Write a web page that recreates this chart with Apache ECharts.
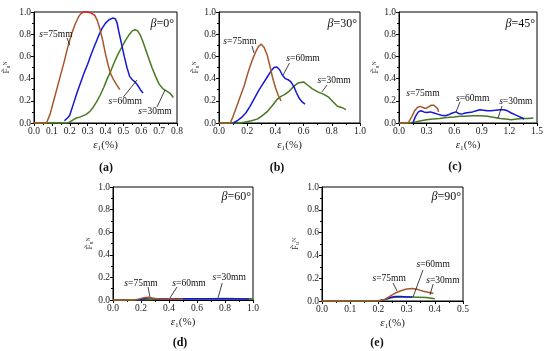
<!DOCTYPE html>
<html><head><meta charset="utf-8">
<script src="https://cdn.jsdelivr.net/npm/echarts@6/dist/echarts.min.js"></script>
<style>html,body{margin:0;padding:0;background:#fff}#c{width:550px;height:351px}</style>
</head><body><div id="c"></div><script>
// ---- data (x = strain ε1 in %, y = normalized force) ----
const a75 = [[0,0],[0.07,0],[0.09,0.08],[0.11,0.2],[0.13,0.32],[0.15,0.44],[0.17,0.56],[0.19,0.69],[0.21,0.80],[0.23,0.89],[0.25,0.96],[0.265,0.99],[0.28,1.0],[0.30,1.0],[0.32,0.99],[0.34,0.97],[0.355,0.92],[0.37,0.84],[0.385,0.74],[0.40,0.62],[0.415,0.52],[0.43,0.44],[0.445,0.39],[0.46,0.35],[0.48,0.30]];
const a60 = [[0.17,0.02],[0.18,0.03],[0.19,0.05],[0.2,0.07],[0.22,0.17],[0.24,0.27],[0.26,0.36],[0.28,0.45],[0.30,0.53],[0.32,0.62],[0.34,0.70],[0.36,0.78],[0.38,0.85],[0.40,0.90],[0.42,0.93],[0.44,0.945],[0.455,0.94],[0.465,0.90],[0.475,0.82],[0.49,0.71],[0.505,0.60],[0.52,0.50],[0.535,0.42],[0.55,0.39],[0.565,0.37],[0.58,0.34],[0.595,0.30],[0.61,0.27]];
const a30 = [[0,0],[0.19,0],[0.21,0.02],[0.23,0.04],[0.26,0.055],[0.29,0.075],[0.31,0.10],[0.33,0.14],[0.35,0.19],[0.37,0.25],[0.39,0.32],[0.41,0.40],[0.43,0.47],[0.45,0.55],[0.47,0.62],[0.49,0.68],[0.51,0.74],[0.53,0.79],[0.55,0.83],[0.565,0.84],[0.58,0.83],[0.595,0.79],[0.61,0.73],[0.625,0.66],[0.64,0.59],[0.66,0.50],[0.68,0.42],[0.70,0.35],[0.72,0.31],[0.74,0.29],[0.76,0.27],[0.78,0.23]];

const b75 = [[0,0],[0.08,0],[0.10,0.06],[0.12,0.13],[0.14,0.20],[0.16,0.27],[0.18,0.34],[0.20,0.43],[0.22,0.51],[0.24,0.58],[0.26,0.64],[0.28,0.69],[0.30,0.71],[0.32,0.68],[0.34,0.62],[0.36,0.52],[0.38,0.41],[0.40,0.32],[0.42,0.25],[0.44,0.20]];
const b60 = [[0.10,0],[0.13,0.02],[0.16,0.05],[0.19,0.09],[0.22,0.15],[0.25,0.22],[0.28,0.29],[0.31,0.35],[0.34,0.41],[0.37,0.47],[0.39,0.50],[0.41,0.505],[0.43,0.48],[0.45,0.43],[0.47,0.40],[0.49,0.39],[0.51,0.37],[0.53,0.33],[0.55,0.27],[0.57,0.22],[0.59,0.19],[0.61,0.17]];
const b30 = [[0,0],[0.15,0],[0.19,0.01],[0.23,0.02],[0.27,0.035],[0.30,0.06],[0.34,0.10],[0.38,0.16],[0.41,0.21],[0.44,0.24],[0.47,0.26],[0.50,0.29],[0.53,0.33],[0.56,0.36],[0.60,0.37],[0.63,0.34],[0.66,0.31],[0.70,0.28],[0.74,0.26],[0.78,0.23],[0.81,0.19],[0.84,0.15],[0.87,0.14],[0.90,0.12]];

const c75 = [[0,0],[0.10,0],[0.14,0.06],[0.17,0.11],[0.20,0.14],[0.23,0.15],[0.26,0.14],[0.29,0.13],[0.32,0.145],[0.35,0.16],[0.38,0.16],[0.40,0.145],[0.42,0.13],[0.43,0.10]];
const c60 = [[0.15,0],[0.18,0.06],[0.21,0.10],[0.24,0.11],[0.27,0.10],[0.30,0.095],[0.34,0.10],[0.38,0.09],[0.42,0.08],[0.46,0.07],[0.50,0.065],[0.54,0.075],[0.58,0.09],[0.62,0.10],[0.65,0.085],[0.68,0.08],[0.72,0.09],[0.76,0.095],[0.80,0.10],[0.84,0.11],[0.88,0.12],[0.92,0.115],[0.96,0.11],[1.00,0.11],[1.05,0.115],[1.10,0.12],[1.14,0.12],[1.18,0.11],[1.22,0.09],[1.26,0.075],[1.30,0.06],[1.34,0.045],[1.36,0.035]];
const c30 = [[0,0],[0.12,0],[0.18,0.01],[0.24,0.02],[0.30,0.03],[0.37,0.035],[0.44,0.04],[0.52,0.05],[0.60,0.055],[0.66,0.06],[0.72,0.06],[0.80,0.065],[0.88,0.065],[0.96,0.06],[1.04,0.05],[1.10,0.04],[1.16,0.035],[1.22,0.03],[1.28,0.035],[1.34,0.04],[1.40,0.04],[1.46,0.045]];

const d75 = [[0,0],[0.15,0],[0.19,0.01],[0.22,0.02],[0.25,0.025],[0.28,0.015],[0.32,0.01],[0.40,0.008],[0.50,0.006]];
const d60 = [[0.17,0],[0.22,0.012],[0.26,0.02],[0.30,0.012],[0.40,0.01],[0.50,0.012],[0.60,0.01],[0.70,0.012],[0.80,0.01],[0.90,0.012],[0.97,0.008]];
const d30 = [[0,0],[0.20,0.002],[0.30,0.005],[0.40,0.008],[0.50,0.01],[0.60,0.012],[0.70,0.012],[0.80,0.014],[0.90,0.012],[1.0,0.01]];

const e75 = [[0,0],[0.20,0.002],[0.22,0.01],[0.24,0.04],[0.26,0.07],[0.28,0.09],[0.30,0.105],[0.32,0.11],[0.34,0.10],[0.36,0.085],[0.38,0.075],[0.395,0.065]];
const e60 = [[0.20,0],[0.22,0.01],[0.24,0.03],[0.26,0.04],[0.28,0.04],[0.30,0.035],[0.32,0.035]];
const e30 = [[0,0],[0.20,0],[0.22,0.01],[0.25,0.03],[0.28,0.035],[0.31,0.035],[0.34,0.033],[0.37,0.03],[0.40,0.02]];

const seriesNames = ['s=75mm','s=60mm','s=30mm'];
const yTicks = [0.0,0.2,0.4,0.6,0.8,1.0];
const peakRange = [0.26,0.335]; // red-highlighted peak of s=75mm in panel (a)

// ---- layout ----
const FONT = "'Liberation Serif','Times New Roman','DejaVu Serif',serif";
const COLORS = ['#A4582C','#1616D8','#457A22'];
const panels = [
  {grid:{left:34,top:12,width:143,height:111}, xmax:0.8, xint:0.1, ygap:23, beta:'0°', betaPos:[174,24], tag:'(a)', tagPos:[106,168], data:[a75,a60,a30],
   notes:[{at:[0.123,0.80],from:[0.185,0.766],to:[0.2,0.70]},{at:[0.51,0.19],from:[0.50,0.234],to:[0.576,0.387]},{at:[0.677,0.10],from:[0.688,0.144],to:[0.733,0.297]}]},
  {grid:{left:219,top:12,width:141,height:111}, xmax:1.0, xint:0.2, ygap:18, beta:'30°', betaPos:[357,24], tag:'(b)', tagPos:[277,168], data:[b75,b60,b30],
   notes:[{at:[0.149,0.73],from:[0.234,0.694],to:[0.248,0.63]},{at:[0.596,0.577],from:[0.50,0.54],to:[0.454,0.432]},{at:[0.816,0.387],from:[0.766,0.342],to:[0.73,0.28]}]},
  {grid:{left:399,top:12,width:138,height:111}, xmax:1.5, xint:0.3, ygap:18, beta:'45°', betaPos:[535,24], tag:'(c)', tagPos:[455,167], data:[c75,c60,c30],
   notes:[{at:[0.26,0.27]},{at:[0.80,0.225],from:[0.663,0.19],to:[0.62,0.10]},{at:[1.27,0.198],from:[1.12,0.153],to:[1.076,0.045]}]},
  {grid:{left:113,top:187,width:140,height:113}, xmax:1.0, xint:0.2, ygap:18, beta:'60°', betaPos:[251,197], tag:'(d)', tagPos:[180,343], data:[d75,d60,d30],
   notes:[{at:[0.2,0.15],from:[0.25,0.115],to:[0.264,0.027]},{at:[0.543,0.15],from:[0.457,0.115],to:[0.407,0.018]},{at:[0.83,0.195],from:[0.78,0.15],to:[0.75,0.018]}]},
  {grid:{left:322,top:187,width:141,height:114}, xmax:0.5, xint:0.1, ygap:22, beta:'90°', betaPos:[461,197], tag:'(e)', tagPos:[377,343], data:[e75,e60,e30],
   notes:[{at:[0.238,0.20],from:[0.252,0.158],to:[0.266,0.088]},{at:[0.394,0.316],from:[0.358,0.272],to:[0.323,0.035]},{at:[0.429,0.184],from:[0.394,0.149],to:[0.383,0.053]}]}
];

const axisCommon = {
  z:0,
  axisLine:{show:true,lineStyle:{color:'#000',width:1}},
  axisTick:{show:true,length:3,lineStyle:{color:'#000'}},
  minorTick:{show:true,splitNumber:2,length:2,lineStyle:{color:'#000'}},
  splitLine:{show:false},
  axisLabel:{fontFamily:FONT,fontSize:9.5,color:'#222',margin:3,formatter:v=>v.toFixed(1)}
};

// colour of the panel-(a) s=75mm line: brown with a red peak (stops derived from data extent)
function peakGradient(d){
  const xs=d.map(p=>p[0]); const lo=Math.min(...xs), hi=Math.max(...xs);
  const f0=(peakRange[0]-lo)/(hi-lo), f1=(peakRange[1]-lo)/(hi-lo);
  return new echarts.graphic.LinearGradient(0,0,1,0,[
    {offset:0,color:COLORS[0]},{offset:f0,color:COLORS[0]},{offset:f0+0.001,color:'#E0201A'},
    {offset:f1,color:'#E0201A'},{offset:f1+0.001,color:COLORS[0]},{offset:1,color:COLORS[0]}]);
}

const grid=[], xAxis=[], yAxis=[], series=[];
panels.forEach((p,i)=>{
  grid.push(Object.assign({show:true,borderColor:'#000',borderWidth:1,containLabel:false,z:0},p.grid));
  xAxis.push(Object.assign({}, axisCommon, {type:'value',gridIndex:i,min:0,max:p.xmax,interval:p.xint,
    name:'{e|ε}₁(%)',nameLocation:'middle',nameGap:17,
    nameTextStyle:{fontFamily:FONT,fontSize:11,color:'#222',rich:{e:{fontFamily:FONT,fontSize:11,fontStyle:'italic',color:'#222'}}}}));
  yAxis.push(Object.assign({}, axisCommon, {type:'value',gridIndex:i,min:yTicks[0],max:yTicks[yTicks.length-1],interval:0.2,
    name:'F̃ᵤᴺ',nameLocation:'middle',nameGap:p.ygap,nameRotate:90,
    nameTextStyle:{fontFamily:FONT,fontSize:9,color:'#333'}}));
  p.data.forEach((d,k)=>{
    const col = (i===0 && k===0) ? peakGradient(d) : COLORS[k];
    series.push({type:'line',name:seriesNames[k]+'-'+i,xAxisIndex:i,yAxisIndex:i,data:d,
      showSymbol:false,symbol:'none',z:5-k,clip:false,
      lineStyle:{width:1.5,color:col},itemStyle:{color:COLORS[k]}});
  });
});

const chart = echarts.init(document.getElementById('c'),null,{renderer:'canvas'});
chart.setOption({
  animation:false,
  backgroundColor:'#fff',
  grid, xAxis, yAxis, series
});

// ---- annotations ----
const graphic=[];
const italicRich = size=>({i:{fontFamily:FONT,fontSize:size,fontStyle:'italic',fill:'#111'}});
panels.forEach((p,i)=>{
  const f={xAxisIndex:i,yAxisIndex:i};
  graphic.push({type:'text',x:p.betaPos[0],y:p.betaPos[1],z:10,
    style:{text:'{i|β}=' + p.beta,rich:italicRich(12),fontFamily:FONT,fontSize:12,fill:'#111',align:'right',verticalAlign:'middle',textAlign:'right',textVerticalAlign:'middle'}});
  graphic.push({type:'text',x:p.tagPos[0],y:p.tagPos[1],z:10,
    style:{text:p.tag,fontFamily:FONT,fontSize:12,fontWeight:'bold',fill:'#111',align:'center',verticalAlign:'middle',textAlign:'center',textVerticalAlign:'middle'}});
  p.notes.forEach((n,k)=>{
    const c=chart.convertToPixel(f,n.at);
    graphic.push({type:'text',x:c[0],y:c[1],z:10,
      style:{text:'{i|s}='+seriesNames[k].slice(2),rich:italicRich(9.5),fontFamily:FONT,fontSize:9.5,fill:'#111',align:'center',verticalAlign:'middle',textAlign:'center',textVerticalAlign:'middle'}});
    if(n.from){
      const a=chart.convertToPixel(f,n.from), b=chart.convertToPixel(f,n.to);
      graphic.push({type:'line',z:10,shape:{x1:a[0],y1:a[1],x2:b[0],y2:b[1]},style:{stroke:'#111',lineWidth:0.8}});
    }
  });
});
chart.setOption({graphic});
</script></body></html>
